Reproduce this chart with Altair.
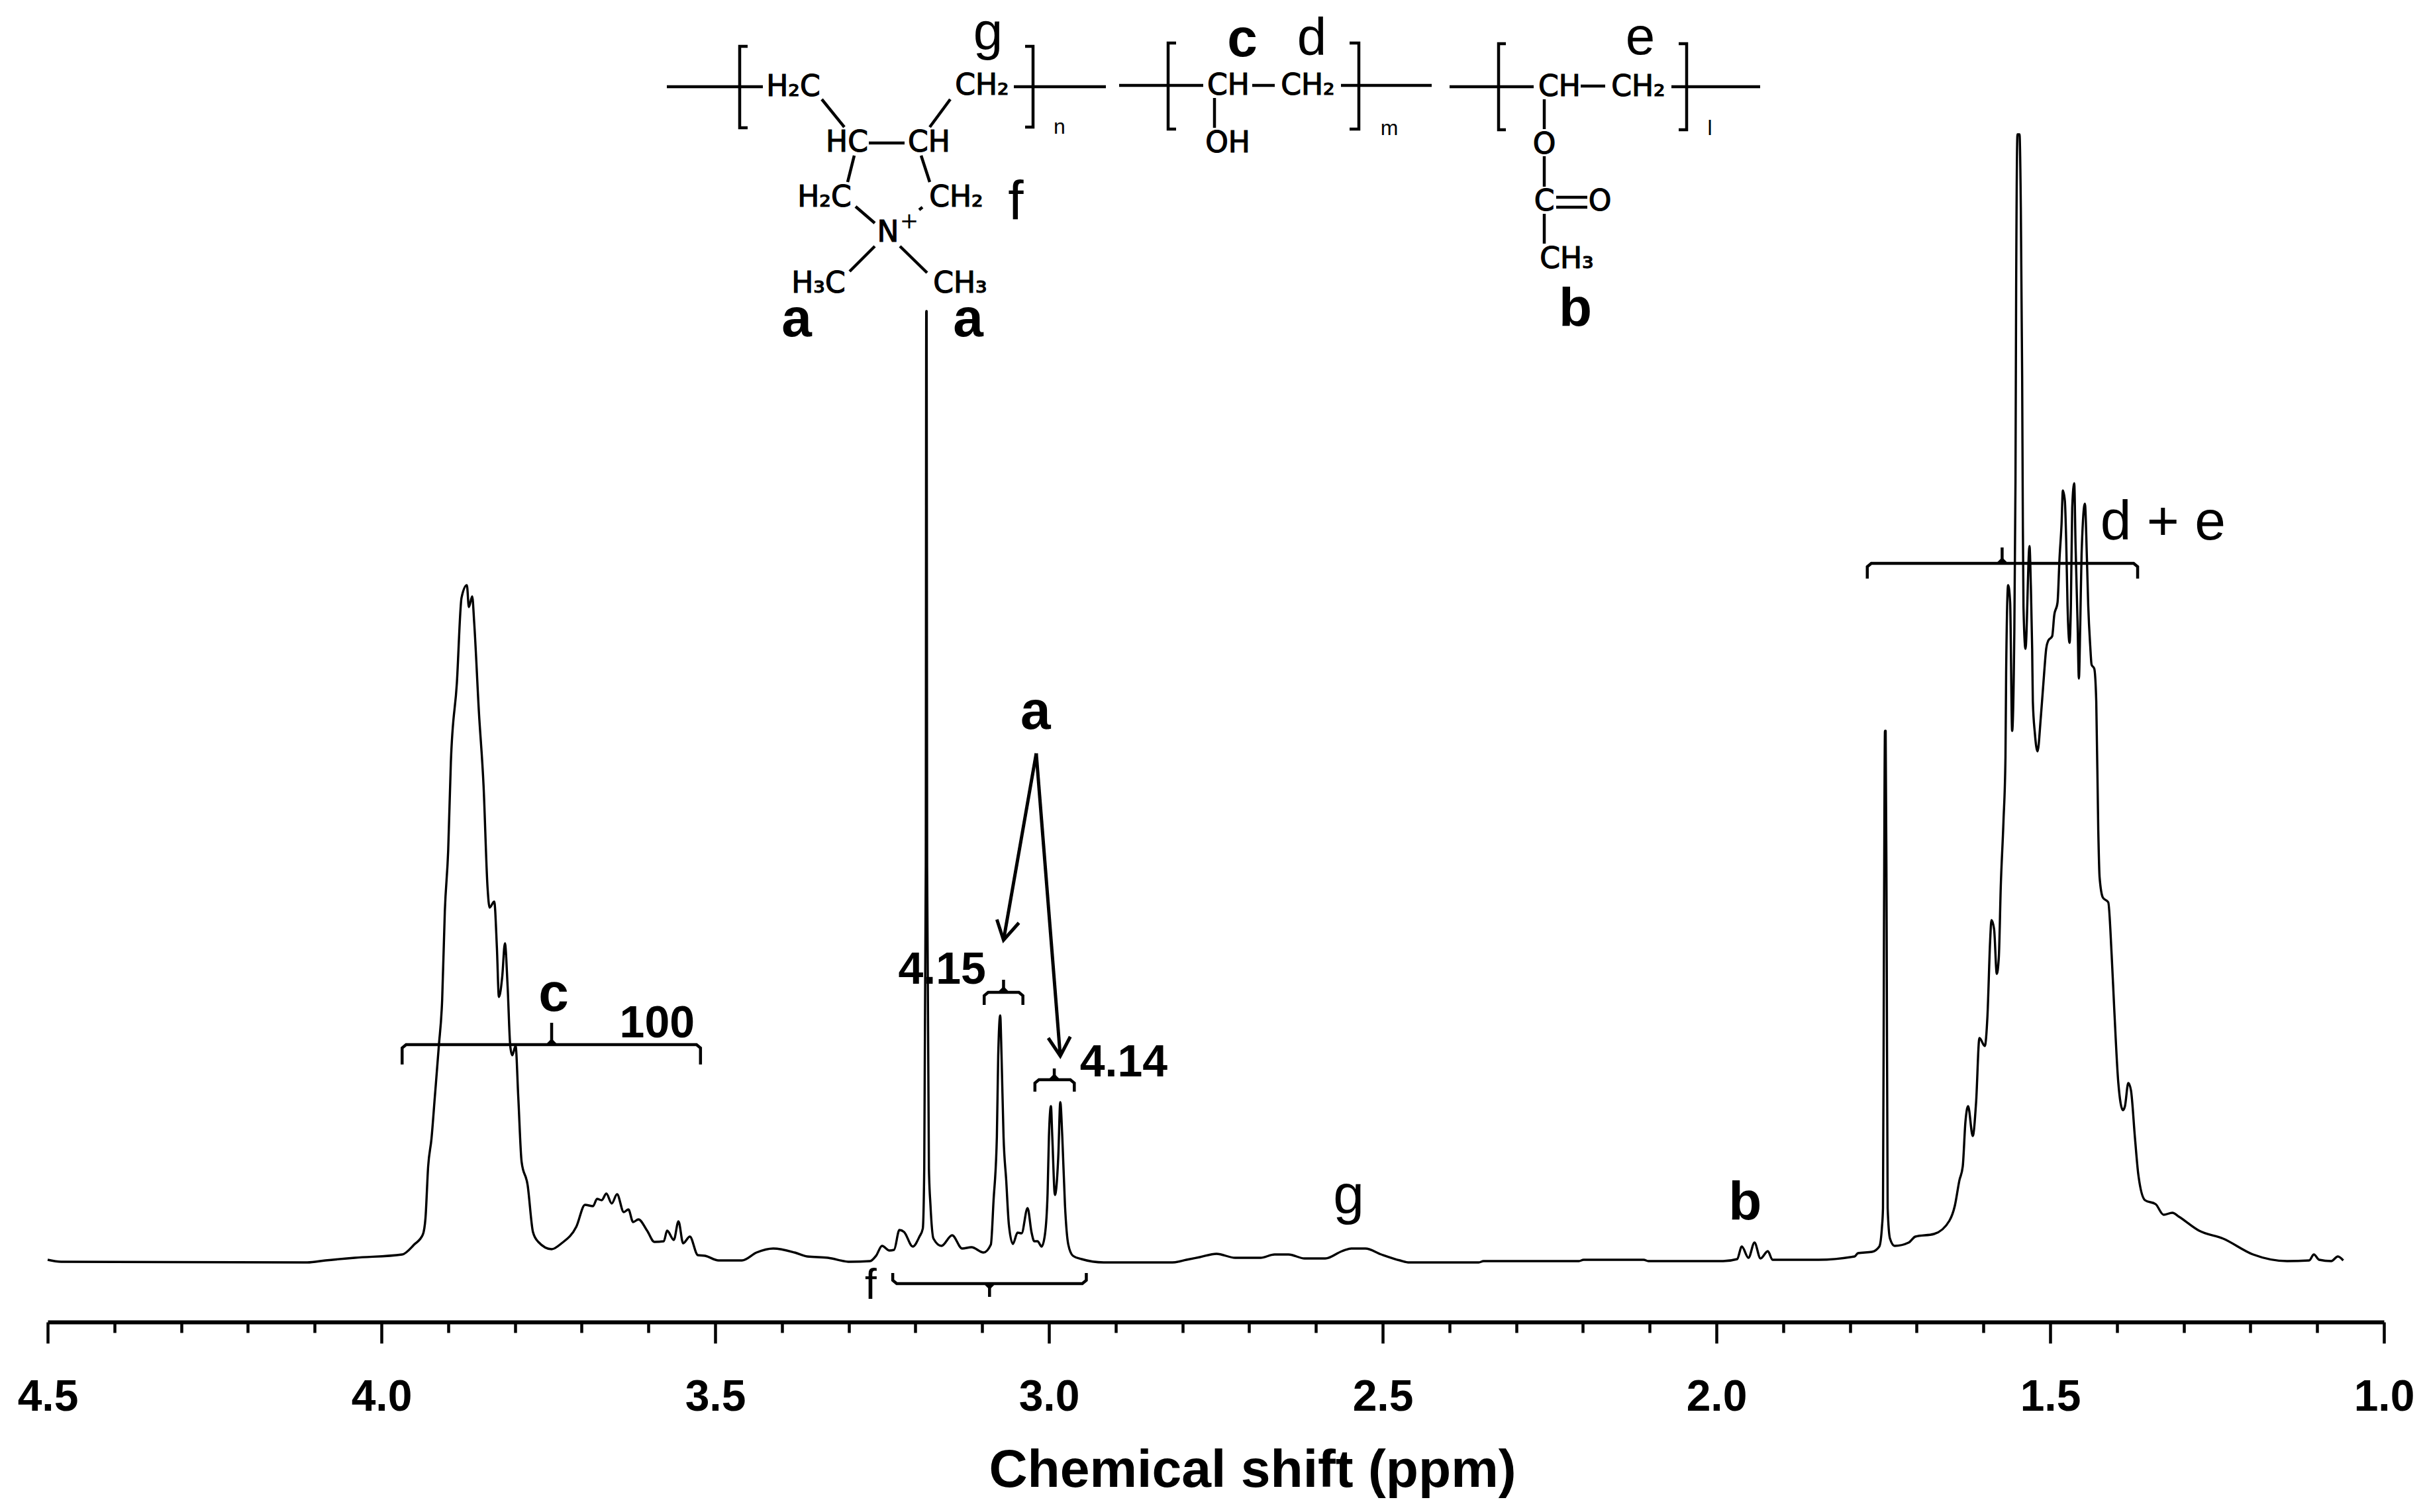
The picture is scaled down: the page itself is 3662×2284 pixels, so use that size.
import altair as alt
import pandas as pd

# ---------- spectrum: chemical shift (ppm) and signal height ----------
PPM = [4.5,4.48,4.111,4.084,4.04,3.969,3.951,3.938,3.934,3.93,3.925,3.92,3.914,3.909,3.905,3.9,3.896,3.887,3.88,3.872,3.869,3.864,3.861,3.854,3.847,3.841,3.838,3.831,3.827,3.824,3.819,3.815,3.811,3.807,3.804,3.799,3.795,3.79,3.781,3.773,3.765,3.745,3.73,3.708,3.695,3.683,3.677,3.67,3.663,3.655,3.647,3.637,3.63,3.623,3.615,3.602,3.591,3.577,3.572,3.562,3.555,3.548,3.538,3.526,3.515,3.495,3.46,3.438,3.413,3.381,3.362,3.331,3.298,3.268,3.259,3.25,3.239,3.232,3.224,3.217,3.204,3.194,3.189,3.1868,3.1845,3.1838,3.1832,3.1825,3.1798,3.1775,3.173,3.161,3.145,3.13,3.116,3.098,3.087,3.083,3.078,3.076,3.073,3.071,3.068,3.064,3.06,3.054,3.047,3.041,3.032,3.026,3.022,3.017,3.011,3.006,3.002,3.0,2.997,2.995,2.991,2.986,2.983,2.98,2.976,2.971,2.964,2.951,2.918,2.885,2.815,2.794,2.774,2.749,2.721,2.683,2.662,2.641,2.617,2.586,2.561,2.547,2.526,2.502,2.474,2.46,2.356,2.349,2.206,2.199,2.109,2.102,1.99,1.969,1.962,1.952,1.943,1.934,1.923,1.916,1.847,1.793,1.788,1.767,1.756,1.752,1.7505,1.749,1.7475,1.7465,1.745,1.7435,1.74,1.733,1.712,1.702,1.674,1.651,1.643,1.636,1.631,1.627,1.623,1.616,1.611,1.606,1.598,1.594,1.59,1.588,1.584,1.58,1.577,1.574,1.57,1.567,1.566,1.563,1.56,1.557,1.554,1.552,1.551,1.549,1.546,1.544,1.542,1.541,1.54,1.537,1.531,1.529,1.527,1.526,1.523,1.519,1.514,1.509,1.506,1.503,1.497,1.494,1.489,1.486,1.483,1.481,1.478,1.476,1.474,1.471,1.469,1.467,1.464,1.462,1.459,1.457,1.455,1.453,1.448,1.445,1.443,1.44,1.438,1.434,1.431,1.428,1.426,1.421,1.413,1.408,1.404,1.398,1.391,1.388,1.383,1.379,1.373,1.368,1.358,1.342,1.33,1.317,1.307,1.277,1.241,1.196,1.145,1.112,1.105,1.097,1.079,1.069,1.061]
HEIGHT = [4,1,0,3,7,12,27,42,67,145,187,250,327,397,531,622,755,875,1004,1023,990,1006,966,832,720,566,536,545,475,401,432,482,418,327,313,327,250,152,117,46,31,20,29,54,87,85,96,94,104,89,103,76,80,61,65,48,31,32,48,34,62,29,39,11,10,3,3,15,21,15,9,7,1,2,10,25,18,19,49,46,24,39,51,142,600,1437,1437,600,142,87,36,25,41,21,23,15,27,93,190,312,373,312,190,124,57,28,45,44,82,45,32,32,24,42,105,190,236,190,102,160,242,190,87,27,10,5,0,0,0,4,8,13,7,7,12,12,6,6,17,21,21,12,3,0,0,2,2,4,4,2,2,5,24,7,30,6,17,4,4,9,14,16,24,54,82,503,803,803,503,82,36,25,30,39,43,63,85,124,145,212,236,191,242,339,327,372,485,517,503,436,460,569,666,763,891,1023,997,803,930,1179,1469,1704,1704,1594,1339,1125,990,927,1082,1023,927,848,800,772,824,891,927,939,946,977,997,1064,1115,1166,1150,1089,992,936,992,1140,1177,1084,967,882,962,1069,1146,1064,992,931,903,897,848,654,582,551,544,466,382,272,230,236,271,260,188,133,94,88,72,75,69,48,36,12,2,3,12,4,2,9,3]

TICKS_MAJOR = [4.5, 4.0, 3.5, 3.0, 2.5, 2.0, 1.5, 1.0]
TICKS_ALL = [round(4.5 - 0.1 * i, 1) for i in range(36)]
AXIS_TITLE = "Chemical shift (ppm)"

# integration brackets: left ppm, right ppm, line height, end height, tick ppm, tick end height
BRACKETS = [
    (3.969, 3.522, 329, 299, 3.745, 362),
    (3.097, 3.039, 408, 389, 3.068, 427),
    (3.021, 2.962, 276, 258, 2.992, 293),
    (3.234, 2.944, -32, -16, 3.089, -52),
    (1.774, 1.369, 1056, 1033, 1.572, 1080),
]
# arrows from the upper "a" label
ARROWS = [
    [(3.019, 769), (3.068, 487)],
    [(3.078, 518), (3.068, 487), (3.045, 513)],
    [(3.019, 769), (2.983, 312)],
    [(3.001, 339), (2.983, 312), (2.968, 341)],
]
# labels in the spectrum: text, ppm, height of the baseline
BOLD_BIG = [("a", 3.020, 806), ("c", 3.742, 380), ("b", 1.957, 65)]
BOLD_NUM = [("4.15", 3.160, 421), ("4.14", 2.888, 281), ("100", 3.587, 340)]
PLAIN_BIG = [("g", 2.551, 74), ("d + e", 1.331, 1092)]
PLAIN_F = [("f", 3.267, -55)]

# ---------- structural formula, read in picture pixels ----------
def ppm_of(x):
    return 4.5 - (x - 72) / 1008

def h_of(y):
    return 1907 - y

BONDS = [
    [(1007,131),(1152,131)], [(1129,70),(1117,70),(1117,193),(1129,193)],
    [(1548,70),(1560,70),(1560,192),(1548,192)], [(1531,131),(1670,131)],
    [(1241,150),(1275,192)], [(1435,150),(1404,192)], [(1312,216),(1366,216)],
    [(1290,235),(1280,275)], [(1391,235),(1404,275)], [(1292,312),(1321,337)],
    [(1388,317),(1393,313)], [(1321,372),(1283,410)], [(1359,372),(1400,412)],
    [(1690,129),(1817,129)], [(1776,65),(1764,65),(1764,195),(1776,195)],
    [(1891,129),(1925,129)], [(2025,129),(2162,129)],
    [(2038,65),(2052,65),(2052,195),(2038,195)], [(1834,148),(1834,193)],
    [(2189,131),(2316,131)], [(2274,66),(2263,66),(2263,196),(2274,196)],
    [(2387,130),(2424,130)], [(2524,131),(2658,131)],
    [(2535,66),(2547,66),(2547,196),(2535,196)], [(2332,150),(2332,195)],
    [(2332,236),(2332,282)], [(2350,298),(2397,298)], [(2350,313),(2397,313)],
    [(2332,323),(2332,368)],
]
ATOMS = [
    ("H₂C",1198,145),("CH₂",1483,143),("HC",1279,229),("CH",1403,229),
    ("H₂C",1245,312),("CH₂",1444,312),("N",1341,365),("H₃C",1236,442),("CH₃",1450,442),
    ("CH",1855,143),("CH₂",1975,143),("OH",1854,230),
    ("CH",2355,145),("CH₂",2474,145),("O",2332,232),("C",2332,318),("O",2416,318),("CH₃",2366,405),
]
CHARGE = [("+",1373,345)]
INDEX = [("n",1600,202),("m",2098,204),("l",2582,204)]
STRUCT_BOLD = [("a",1203,508),("a",1462,508),("c",1876,85),("b",2379,492)]
STRUCT_TOP = [("g",1492,74),("d",1981,83),("e",2477,82)]
STRUCT_F = [("f",1534,332)]

# ---------- tables ----------
spectrum = pd.DataFrame({"ppm": PPM, "h": HEIGHT})

def rows_from_paths(paths):
    return pd.DataFrame(
        [{"id": k, "i": i, "ppm": p, "h": h} for k, path in enumerate(paths) for i, (p, h) in enumerate(path)]
    )

bracket_paths = []
for l, r, line, end, tx, th in BRACKETS:
    c = 0.006
    s = 5 if end < line else -5
    t = 5 if th > line else -5
    bracket_paths.append([(l, end), (l, line - s), (l - c, line), (r + c, line), (r, line - s), (r, end)])
    bracket_paths.append([(tx, line), (tx, th)])
    bracket_paths.append([(tx - 0.006, line), (tx - 0.001, line + t), (tx + 0.001, line + t), (tx + 0.006, line)])

bond_paths = [[(ppm_of(x), h_of(y)) for x, y in b] for b in BONDS]

def labels(rows):
    return pd.DataFrame([{"t": t, "ppm": p, "h": h} for t, p, h in rows])

def struct_labels(rows):
    return labels([(t, ppm_of(x), h_of(y)) for t, x, y in rows])

X = alt.X("ppm:Q", scale=alt.Scale(domain=[4.5, 1.0], nice=False, zero=False),
          axis=alt.Axis(
              title=AXIS_TITLE, titleFont="Liberation Sans", titleFontSize=80.5, titleFontWeight="bold",
              titleColor="black", titleX=1819, titleY=248, titleAlign="center", titleBaseline="alphabetic",
              values=TICKS_ALL, grid=False,
              labelExpr="round(datum.value*100)%50==0 ? format(datum.value,'.1f') : ''",
              labelFont="Liberation Sans", labelFontSize=66, labelFontWeight="bold", labelColor="black",
              labelPadding=49, labelOverlap=False, labelFlush=False, labelBound=False,
              domainColor="black", domainWidth=6, tickColor="black", tickWidth=4.5,
              tickSize=alt.ConditionalAxisNumber(
                  condition=alt.ConditionalPredicateValueDefnumberExprRef(
                      test="round(datum.value*100)%50==0", value=32), value=16),
          ))
Y = alt.Y("h:Q", scale=alt.Scale(domain=[-90, 1869], nice=False, zero=False), axis=None)

line = alt.Chart(spectrum).mark_line(color="black", strokeWidth=3.4, strokeJoin="round",
                                     interpolate="monotone").encode(x=X, y=Y)

def paths_layer(paths, width):
    return alt.Chart(rows_from_paths(paths)).mark_line(color="black", strokeWidth=width).encode(
        x=X, y=Y, detail="id:N", order="i:Q")

def text_layer(df, font, size, weight="normal", **kw):
    return alt.Chart(df).mark_text(font=font, fontSize=size, fontWeight=weight, color="black",
                                   align="center", baseline="alphabetic", **kw).encode(x=X, y=Y, text="t:N")

SANS = "Liberation Sans"
CHEM = "DejaVu Sans"
chart = alt.layer(
    line,
    paths_layer(bracket_paths, 4.5),
    paths_layer(ARROWS, 5),
    paths_layer(bond_paths, 4.5),
    text_layer(labels(BOLD_BIG), SANS, 82, "bold"),
    text_layer(labels(BOLD_NUM), SANS, 68, "bold"),
    text_layer(labels(PLAIN_BIG), SANS, 84),
    text_layer(labels(PLAIN_F), SANS, 64),
    text_layer(struct_labels(STRUCT_BOLD), SANS, 82, "bold"),
    text_layer(struct_labels(STRUCT_TOP), SANS, 80),
    text_layer(struct_labels(STRUCT_F), SANS, 84),
    text_layer(struct_labels(ATOMS), CHEM, 44, stroke="black", strokeWidth=1.2),
    text_layer(struct_labels(CHARGE), CHEM, 34),
    text_layer(struct_labels(INDEX), SANS, 32),
).properties(
    width=3528, height=1959,
    autosize=alt.AutoSizeParams(type="none"),
    padding={"left": 64, "top": 30, "right": 54, "bottom": 270},
    background="white",
).configure_view(stroke=None)

chart.save("out.html", embed_options={"renderer": "svg", "actions": False})
